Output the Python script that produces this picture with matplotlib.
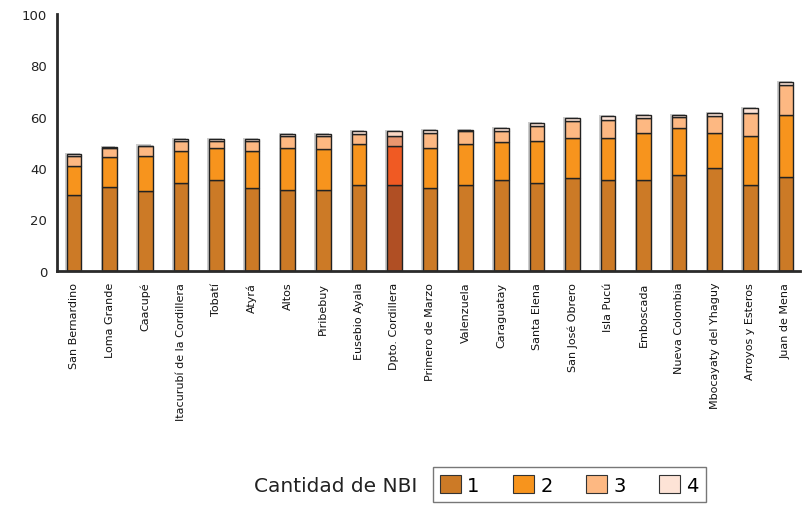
"""Stacked bars: cantidad de NBI por distrito, Dpto. Cordillera."""

import matplotlib
matplotlib.use("Agg")
import matplotlib.pyplot as plt
import numpy as np
from matplotlib import patheffects
from matplotlib.patches import Patch

# ── data (percent of households) ────────────────────────────────────────
districts = [
    "San Bernardino", "Loma Grande", "Caacupé", "Itacurubí de la Cordillera",
    "Tobatí", "Atyrá", "Altos", "Piribebuy", "Eusebio Ayala", "Dpto. Cordillera",
    "Primero de Marzo", "Valenzuela", "Caraguatay", "Santa Elena",
    "San José Obrero", "Isla Pucú", "Emboscada", "Nueva Colombia",
    "Mbocayaty del Yhaguy", "Arroyos y Esteros", "Juan de Mena",
]
nbi_1 = [29.6, 32.8, 31.0, 34.1, 35.4, 32.2, 31.5, 31.5, 33.4, 33.4, 32.3,
         33.6, 35.4, 34.1, 36.1, 35.4, 35.4, 37.4, 39.9, 33.5, 36.7]
nbi_2 = [11.4, 11.5, 13.9, 12.7, 12.6, 14.6, 16.5, 15.9, 16.0, 15.3, 15.7,
         15.8, 14.6, 16.6, 15.7, 16.4, 18.4, 18.3, 13.9, 19.0, 24.1]
nbi_3 = [3.9, 3.7, 3.8, 3.7, 2.4, 3.7, 4.5, 5.3, 3.7, 4.0, 5.8,
         5.2, 4.6, 5.8, 6.6, 7.1, 5.7, 4.2, 6.4, 9.0, 11.5]
nbi_4 = [0.7, 0.1, 0.1, 0.7, 0.8, 0.7, 0.6, 0.4, 1.2, 1.6, 1.2,
         0.4, 1.1, 1.1, 1.1, 1.3, 1.3, 0.9, 1.3, 1.9, 1.1]
series_labels = ["1", "2", "3", "4"]
y_ticks = [0, 20, 40, 60, 80, 100]
highlight = "Dpto. Cordillera"

colors = ["#CC7A26", "#F7941D", "#FDB882", "#FDE3D6"]
colors_hl = ["#B04F24", "#F05A23", "#E9966F", "#FCD8C4"]
edge = "#222222"

plt.rcParams["font.family"] = ["DejaVu Sans"]

fig = plt.figure(figsize=(8.07, 5.06), dpi=100)
ax = fig.add_axes([0.0706, 0.463, 0.921, 0.507])

x = np.arange(len(districts))
shadow = [patheffects.SimplePatchShadow(offset=(-1.2, 0.8), shadow_rgbFace="0.5", alpha=0.4),
          patheffects.Normal()]

bottom = np.zeros(len(districts))
for k, vals in enumerate([nbi_1, nbi_2, nbi_3, nbi_4]):
    vals = np.array(vals)
    cols = [colors_hl[k] if d == highlight else colors[k] for d in districts]
    bars = ax.bar(x, vals, width=0.41, bottom=bottom, color=cols,
                  edgecolor=edge, linewidth=1.0, zorder=2)
    for b in bars:
        b.set_path_effects(shadow)
    bottom += vals

ax.set_xlim(-0.48, len(districts) - 1 + 0.4)
ax.set_ylim(0, 100)
ax.set_yticks(y_ticks)
ax.set_yticklabels([str(t) for t in y_ticks], fontsize=9.5, color="#222222")
ax.set_xticks(x)
ax.set_xticklabels(districts, rotation=90, fontsize=8, color="#111111",
                   va="top", ha="center")
ax.tick_params(axis="both", length=0)
ax.tick_params(axis="x", pad=8)
ax.tick_params(axis="y", pad=7)

for side in ["top", "right"]:
    ax.spines[side].set_visible(False)
for side in ["left", "bottom"]:
    ax.spines[side].set_linewidth(2.0)
    ax.spines[side].set_color("#2a2a2a")

# ── legend ──────────────────────────────────────────────────────────────
handles = [Patch(facecolor=c, edgecolor="#333333", linewidth=0.8) for c in colors]
leg = fig.legend(handles, series_labels, ncol=4, loc="center left",
                 bbox_to_anchor=(0.536, 0.04), fontsize=14, frameon=True,
                 fancybox=False, edgecolor="#555555", handlelength=1.1,
                 handleheight=1.1, handletextpad=0.3, columnspacing=1.72,
                 borderpad=0.38, borderaxespad=0)
leg.get_frame().set_linewidth(1.0)
fig.text(0.315, 0.038, "Cantidad de NBI", fontsize=14.5, color="#222222",
         ha="left", va="center")

fig.savefig("out.png", dpi=100)
